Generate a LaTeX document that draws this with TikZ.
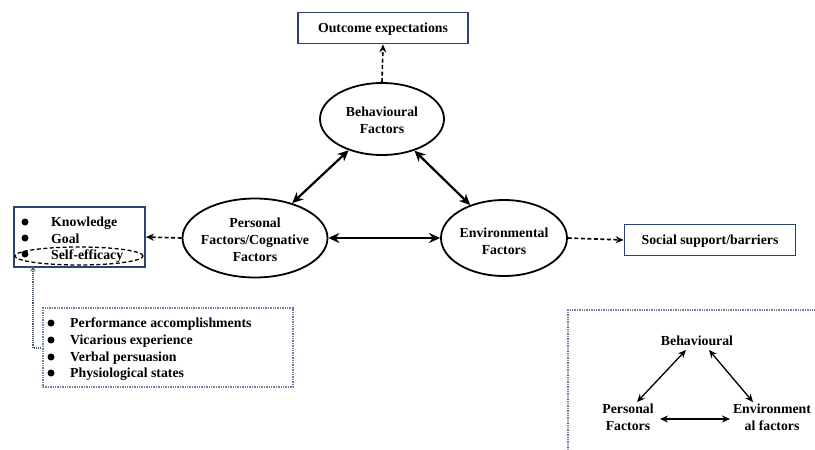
\documentclass[tikz,border=0pt]{standalone}
\usepackage{fontspec}
\setmainfont{Liberation Serif}
\usetikzlibrary{arrows.meta,shapes.geometric}
\definecolor{navy}{HTML}{2E4272}
\definecolor{dotblue}{HTML}{7080A0}
\begin{document}
\begin{tikzpicture}[x=1pt,y=-1pt,
  txt/.style={font=\bfseries\fontsize{13.8}{17}\selectfont, align=center, inner sep=0pt},
  oval/.style={ellipse, draw, line width=1.8pt, inner sep=0pt},
  bluebox/.style={draw=navy, line width=1.8pt, inner sep=0pt},
  twoway/.style={line width=2.2pt, {Stealth[length=11pt,width=10pt]}-{Stealth[length=11pt,width=10pt]}},
  dasharrow/.style={dash pattern=on 4pt off 2.5pt, line width=1.6pt, -{Stealth[length=8pt,width=7pt]}},
  smallarrow/.style={line width=1.3pt, {Stealth[length=8pt,width=7pt]}-{Stealth[length=8pt,width=7pt]}},
  bul/.style={circle, fill=black, inner sep=0pt, minimum size=7pt}
]
\useasboundingbox (0,0) rectangle (815,450);

% top outcome box
\node[bluebox, minimum width=170pt, minimum height=31pt] (oe) at (383,28) {};
\node[txt] (oet) at (383,29) {Outcome expectations};

% ellipses
\node[oval, minimum width=124pt, minimum height=72pt] (beh) at (382,119) {};
\node[txt] (beht) at (382,120) {Behavioural\\Factors};
\node[oval, minimum width=145pt, minimum height=79pt] (per) at (255,238) {};
\node[txt] (pert) at (255,240) {Personal\\Factors/Cognative\\Factors};
\node[oval, minimum width=126pt, minimum height=76pt] (env) at (504,238) {};
\node[txt] (envt) at (504,241) {Environmental\\Factors};

% social box
\node[bluebox, minimum width=171pt, minimum height=31pt] (soc) at (710,240) {};
\node[txt] (soct) at (710,241) {Social support/barriers};

% left box
\node[bluebox, minimum width=131pt, minimum height=60pt] (lb) at (79.5,237) {};
\node[bul] (b1) at (25,222) {};
\node[bul] (b2) at (25,238) {};
\node[bul] (b3) at (25,254) {};
\node[txt, anchor=west] (k) at (51,223) {Knowledge};
\node[txt, anchor=west] (g) at (51,239) {Goal};
\node[txt, anchor=west] (s) at (51,256) {Self-efficacy};
\node[ellipse, draw, dash pattern=on 4pt off 2.5pt, line width=1.3pt, minimum width=128pt, minimum height=18pt, inner sep=0pt] (se) at (79,256) {};

% connectors
\draw[dasharrow] (beh.north) -- (oe.south);
\draw[twoway] (per) -- (env);
\draw[twoway] (beh) -- (per);
\draw[twoway] (beh) -- (env);
\draw[dasharrow] (env.east) -- (soc.west);
\draw[dasharrow] (per.west) -- (lb.east);

% list box
\node[draw=dotblue, densely dotted, line width=1.4pt, minimum width=250pt, minimum height=79pt, inner sep=0pt] (lst) at (168,347.5) {};
\node[bul] (c1) at (51,323) {};
\node[bul] (c2) at (51,340) {};
\node[bul] (c3) at (51,357) {};
\node[bul] (c4) at (51,373) {};
\node[txt, anchor=west] (p1) at (70,324) {Performance accomplishments};
\node[txt, anchor=west] (p2) at (70,341) {Vicarious experience};
\node[txt, anchor=west] (p3) at (70,358) {Verbal persuasion};
\node[txt, anchor=west] (p4) at (70,374) {Physiological states};
\coordinate (ls) at (41,348);
\draw[densely dotted, line width=1.1pt, draw=dotblue!70!black, -{Stealth[length=6pt,width=5pt,open]}] (ls) -| (se.south -| 33,0);

% bottom right inset
\draw[dotblue, densely dotted, line width=1.4pt] (568,450) -- (568,310) -- (815,310);
\node[txt] (ib) at (697,341) {Behavioural};
\node[txt] (ip) at (628,417) {Personal\\Factors};
\node[txt] (ie) at (772,417) {Environment\\al factors};
\draw[smallarrow] (686,350) -- (637,402);
\draw[smallarrow] (709,350) -- (753,402);
\draw[smallarrow] (660,419) -- (730,419);
\end{tikzpicture}
\end{document}
